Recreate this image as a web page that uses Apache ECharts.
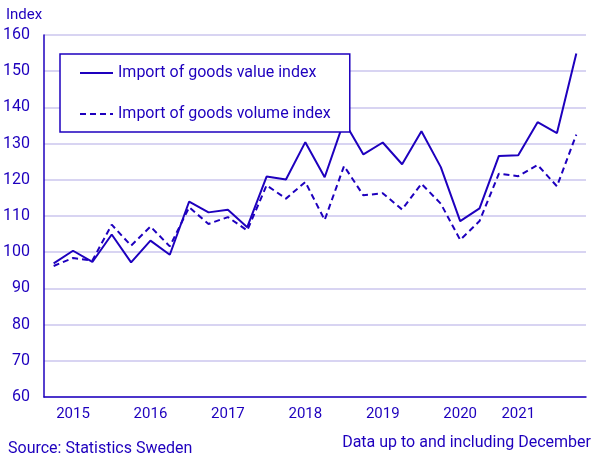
<!DOCTYPE html>
<html>
<head>
<meta charset="utf-8">
<script src="https://cdn.jsdelivr.net/npm/echarts@6/dist/echarts.min.js"></script>
<style>
  html, body { margin: 0; padding: 0; background: #fff; }
  #chart { width: 606px; height: 459px; }
</style>
</head>
<body>
<div id="chart"></div>
<script>
// Quarterly import indices, 2015 Q1 – 2021 Q4
const quarters = [
  '2015K1', '2015K2', '2015K3', '2015K4',
  '2016K1', '2016K2', '2016K3', '2016K4',
  '2017K1', '2017K2', '2017K3', '2017K4',
  '2018K1', '2018K2', '2018K3', '2018K4',
  '2019K1', '2019K2', '2019K3', '2019K4',
  '2020K1', '2020K2', '2020K3', '2020K4',
  '2021K1', '2021K2', '2021K3', '2021K4'
];
const valueIndex = [
  96.9, 100.4, 97.3, 104.9,
  97.2, 103.2, 99.3, 114.0,
  111.0, 111.7, 106.9, 120.9,
  120.1, 130.4, 120.7, 136.2,
  127.0, 130.3, 124.3, 133.4,
  123.5, 108.6, 112.1, 126.6,
  126.8, 135.9, 132.9, 154.9
];
const volumeIndex = [
  96.2, 98.4, 97.7, 107.6,
  101.8, 107.1, 101.6, 112.4,
  107.8, 109.7, 106.0, 118.5,
  114.8, 119.4, 108.9, 123.8,
  115.7, 116.3, 111.8, 118.9,
  113.4, 103.4, 108.6, 121.7,
  121.0, 124.1, 118.2, 132.5
];
// which quarters carry a year label
const yearLabelAt = [1, 5, 9, 13, 17, 21, 24];

const blue = '#1e00be';
const gridColor = '#cbc6ee';
const font = 'Roboto';

const chart = echarts.init(document.getElementById('chart'));

chart.setOption({
  animation: false,
  textStyle: { fontFamily: font, color: blue },
  title: [
    { text: 'Index', left: 1, top: 3,
      textStyle: { fontSize: 15, fontWeight: 'normal', color: blue, fontFamily: font } },
    { text: 'Source: Statistics Sweden', left: 3, top: 436,
      textStyle: { fontSize: 16, fontWeight: 'normal', color: blue, fontFamily: font } },
    { text: 'Data up to and including December', right: 10, top: 430,
      textStyle: { fontSize: 16, fontWeight: 'normal', color: blue, fontFamily: font } }
  ],
  legend: {
    orient: 'vertical',
    left: 60,
    top: 54,
    padding: [11, 19, 10, 19],
    itemGap: 25,
    itemWidth: 33,
    itemHeight: 14,
    itemStyle: { opacity: 0 },
    backgroundColor: '#fff',
    borderColor: blue,
    borderWidth: 1.5,
    borderRadius: 0,
    textStyle: { fontSize: 16, color: blue, fontFamily: font },
    data: ['Import of goods value index', 'Import of goods volume index']
  },
  grid: { left: 43, right: 20, top: 35, bottom: 62, containLabel: false },
  xAxis: [
    {
      type: 'category',
      data: quarters,
      boundaryGap: true,
      axisLine: { lineStyle: { color: blue, width: 1.5 } },
      axisTick: { interval: 1, length: 4, lineStyle: { color: blue, width: 1.5 } },
      axisLabel: {
        interval: (i) => yearLabelAt.includes(i),
        formatter: (v) => v.slice(0, 4),
        fontSize: 15,
        color: blue,
        margin: 10,
        fontFamily: font
      },
      splitLine: { show: false }
    },
    {
      type: 'category',
      data: quarters,
      position: 'bottom',
      boundaryGap: true,
      axisLine: { show: false },
      axisTick: { inside: true, interval: 1, length: 4, lineStyle: { color: blue, width: 1.5 } },
      axisLabel: { show: false },
      splitLine: { show: false }
    }
  ],
  yAxis: {
    type: 'value',
    min: 60,
    max: 160,
    interval: 10,
    axisLine: { show: true, lineStyle: { color: blue, width: 1.5 } },
    axisTick: { show: false },
    axisLabel: { fontSize: 16, color: blue, margin: 14, fontFamily: font },
    splitLine: { lineStyle: { color: gridColor, width: 1.5 } }
  },
  series: [
    {
      name: 'Import of goods value index',
      type: 'line',
      data: valueIndex,
      symbol: 'none',
      lineStyle: { color: blue, width: 2 },
      itemStyle: { color: blue }
    },
    {
      name: 'Import of goods volume index',
      type: 'line',
      data: volumeIndex,
      symbol: 'none',
      lineStyle: { color: blue, width: 2, type: [6, 4] },
      itemStyle: { color: blue }
    }
  ]
});
</script>
</body>
</html>
